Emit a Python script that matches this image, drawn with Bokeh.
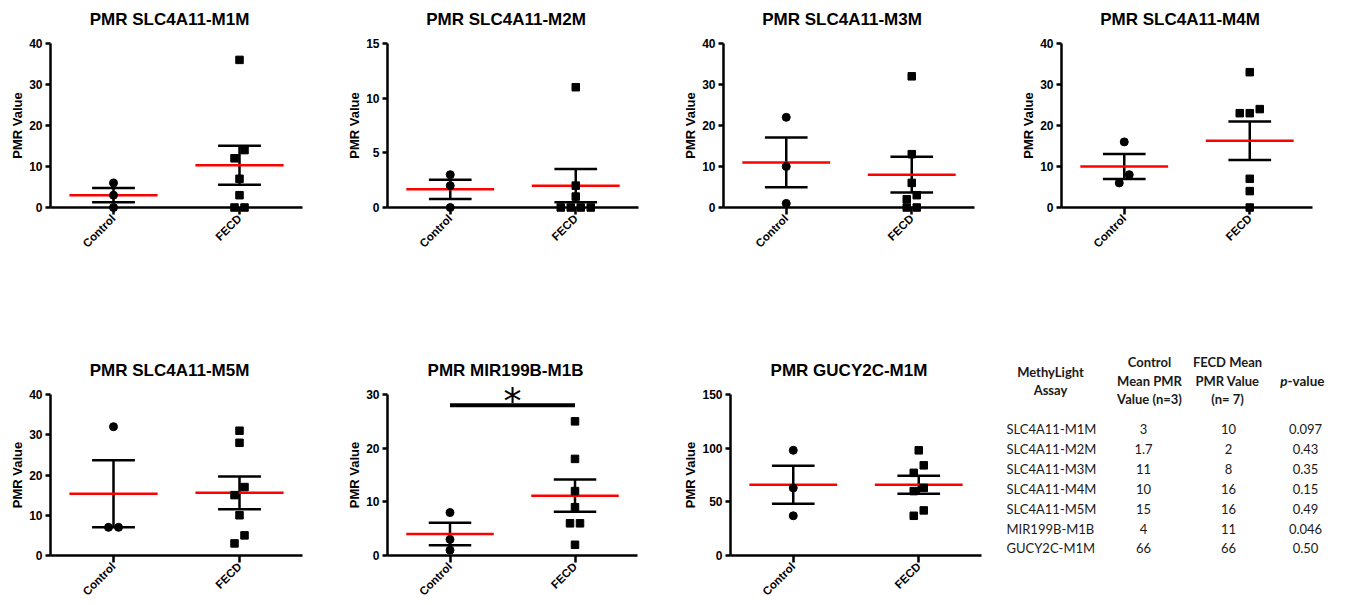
import math
from bokeh.plotting import figure
from bokeh.layouts import row, column
from bokeh.models import Range1d, FixedTicker, ColumnDataSource
from bokeh.core.properties import value
from bokeh.embed import file_html
from bokeh.resources import INLINE

# ---------------- data ----------------
groups = ["Control", "FECD"]

titles = ["PMR SLC4A11-M1M", "PMR SLC4A11-M2M", "PMR SLC4A11-M3M", "PMR SLC4A11-M4M",
          "PMR SLC4A11-M5M", "PMR MIR199B-M1B", "PMR GUCY2C-M1M"]

m1m_control = [6, 3, 0]
m1m_fecd = [36, 14, 12, 7, 3, 0, 0]
m2m_control = [3, 2, 0]
m2m_fecd = [11, 2, 1, 0, 0, 0, 0]
m3m_control = [22, 10, 1]
m3m_fecd = [32, 13, 6, 3, 2, 0, 0]
m4m_control = [16, 8, 6]
m4m_fecd = [33, 24, 23, 23, 7, 4, 0]
m5m_control = [32, 7, 7]
m5m_fecd = [31, 28, 17, 15, 10, 5, 3]
mir_control = [8, 3, 1]
mir_fecd = [25, 18, 12, 9, 6, 6, 2]
gucy_control = [98, 63, 37]
gucy_fecd = [98, 84, 77, 63, 60, 42, 37]

y_max = [40, 15, 40, 40, 40, 30, 150]
y_step = [10, 5, 10, 10, 10, 10, 50]

sig_panel = 5
sig_bar_y = 28
sig_label = "*"

table_header = ["MethyLight\nAssay", "Control\nMean PMR\nValue (n=3)", "FECD Mean\nPMR Value\n(n= 7)"]
table_p_header = ["p", "-value"]
table_assays = ["SLC4A11-M1M", "SLC4A11-M2M", "SLC4A11-M3M", "SLC4A11-M4M",
                "SLC4A11-M5M", "MIR199B-M1B", "GUCY2C-M1M"]
table_control_mean = ["3", "1.7", "11", "10", "15", "4", "66"]
table_fecd_mean = ["10", "2", "8", "16", "16", "11", "66"]
table_p = ["0.097", "0.43", "0.35", "0.15", "0.49", "0.046", "0.50"]

controls = [m1m_control, m2m_control, m3m_control, m4m_control, m5m_control, mir_control, gucy_control]
fecds = [m1m_fecd, m2m_fecd, m3m_fecd, m4m_fecd, m5m_fecd, mir_fecd, gucy_fecd]

# ---------------- layout / style ----------------
FONT = "Liberation Sans"
TOP_H, BOT_H = 351, 253
# (fig width, border left, border right)
top_geo = [(340, 50, 38), (335, 47, 37), (335, 48, 36), (330, 51, 28)]
bot_geo = [(340, 50, 38), (335, 47, 38), (315, 55, 9)]
TOP_BT, TOP_BB = 43, 144
BOT_BT, BOT_BB = 43, 46
MEAN_HW = 0.35
CAP_HW = 0.17
JIT_T, JIT_S = 9.0, 10.0
TITLE_DY, TITLE_DX = 24, -7     # px above frame top / shift from frame centre
STAR_DY = 10                    # px above the significance bar


def stats(v):
    n = len(v)
    m = sum(v) / n
    sd = math.sqrt(sum((x - m) ** 2 for x in v) / (n - 1))
    return m, sd / math.sqrt(n)


def jitter(vals, ppu_y, ppu_x):
    order = sorted(range(len(vals)), key=lambda i: -vals[i])
    offs = [0.0] * len(vals)
    grps = []
    for i in order:
        if grps and (vals[grps[-1][0]] - vals[i]) * ppu_y < JIT_T:
            grps[-1].append(i)
        else:
            grps.append([i])
    for g in grps:
        gs = sorted(g, key=lambda i: vals[i])
        n = len(gs)
        for k, i in enumerate(gs):
            offs[i] = (k - (n - 1) / 2) * JIT_S / ppu_x
    return offs


def make_panel(idx, fw, bl, br, fh, bt, bb):
    ymax = y_max[idx]
    p = figure(width=fw, height=fh, x_range=Range1d(0, len(groups)), y_range=Range1d(0, ymax),
               output_backend="svg", toolbar_location=None,
               min_border_left=bl, min_border_right=br, min_border_top=bt, min_border_bottom=bb)
    p.outline_line_color = None
    p.grid.visible = False

    centers = [i + 0.5 for i in range(len(groups))]
    frame_w = fw - bl - br
    frame_h = fh - bt - bb
    ppu_x = frame_w / len(groups)
    ppu_y = frame_h / ymax

    # title (placed above the frame)
    p.text(x=[len(groups) / 2 + TITLE_DX / ppu_x], y=[ymax + TITLE_DY / ppu_y], text=[titles[idx]],
           text_align="center", text_baseline="middle", text_font=value(FONT),
           text_font_size="17px", text_font_style="bold", text_color="black", level="overlay")

    # axes
    p.xaxis.ticker = FixedTicker(ticks=centers)
    p.xaxis.major_label_overrides = {c: g for c, g in zip(centers, groups)}
    p.xaxis.major_label_orientation = math.pi / 4
    p.yaxis.ticker = FixedTicker(ticks=list(range(0, ymax + 1, y_step[idx])))
    for ax in (p.xaxis, p.yaxis):
        ax.axis_line_width = 2.5
        ax.axis_line_color = "black"
        ax.major_tick_line_width = 2.5
        ax.major_tick_line_color = "black"
        ax.major_tick_in = 0
        ax.minor_tick_line_color = None
        ax.major_label_text_font = FONT
        ax.major_label_text_font_style = "bold"
        ax.major_label_text_color = "black"
    p.xaxis.major_tick_out = 7
    p.xaxis.major_label_standoff = 2
    p.xaxis.major_label_text_font_size = "11.5px"
    p.yaxis.major_tick_out = 5
    p.yaxis.major_label_standoff = 3
    p.yaxis.major_label_text_font_size = "12px"
    p.yaxis.axis_label = "PMR Value"
    p.yaxis.axis_label_text_font = FONT
    p.yaxis.axis_label_text_font_size = "13px"
    p.yaxis.axis_label_text_font_style = "bold"
    p.yaxis.axis_label_text_color = "black"
    p.yaxis.axis_label_standoff = 1

    for gi, vals in enumerate([controls[idx], fecds[idx]]):
        c = centers[gi]
        m, se = stats(vals)
        p.segment(x0=[c, c - CAP_HW, c - CAP_HW], y0=[m - se, m + se, m - se],
                  x1=[c, c + CAP_HW, c + CAP_HW], y1=[m + se, m + se, m - se],
                  line_color="black", line_width=2.5)
        p.segment(x0=[c - MEAN_HW], y0=[m], x1=[c + MEAN_HW], y1=[m],
                  line_color="red", line_width=2.5)
        offs = jitter(vals, ppu_y, ppu_x)
        src = ColumnDataSource(dict(x=[c + o for o in offs], y=vals))
        if gi == 0:
            p.scatter("x", "y", source=src, marker="circle", size=8, color="black", level="overlay")
        else:
            p.scatter("x", "y", source=src, marker="square", size=7.5, color="black", level="overlay")

    if idx == sig_panel:
        p.segment(x0=[centers[0]], y0=[sig_bar_y], x1=[centers[1]], y1=[sig_bar_y],
                  line_color="black", line_width=4, level="overlay")
        p.text(x=[sum(centers) / 2], y=[sig_bar_y + STAR_DY / ppu_y], text=[sig_label], text_align="center",
               text_baseline="middle", text_font=value("DejaVu Sans"), text_font_size="36px",
               text_color="black", level="overlay", y_offset=5)
    return p


top_figs = [make_panel(i, *top_geo[i], TOP_H, TOP_BT, TOP_BB) for i in range(4)]
bot_figs = [make_panel(4 + i, *bot_geo[i], BOT_H, BOT_BT, BOT_BB) for i in range(3)]

# ---------------- table ----------------
TAB_X0, TW = 990, 350
frame_top = TOP_H + BOT_BT
frame_bot = TOP_H + BOT_H - BOT_BB
tab = figure(width=TW, height=BOT_H, x_range=Range1d(TAB_X0, TAB_X0 + TW),
             y_range=Range1d(frame_bot, frame_top),
             output_backend="svg", toolbar_location=None,
             min_border_left=0, min_border_right=0, min_border_top=BOT_BT, min_border_bottom=BOT_BB)
tab.axis.visible = False
tab.grid.visible = False
tab.outline_line_color = None
TFONT = "Lato"
TCOL = "#1a1a1a"
TSIZE = "13px"
HEAD_Y = 380
ROW0, ROW_H = 429.5, 20.2
head_x = [1050, 1149, 1227]
col_x = [1143, 1228, 1305]
ROW_LABEL_X = 1006
P_SPLIT = 1287

tab.text(x=head_x, y=[HEAD_Y] * 3, text=table_header, text_align="center", text_baseline="middle",
         text_font=value(TFONT), text_font_size=TSIZE, text_font_style="bold",
         text_line_height=1.15, text_color=TCOL, level="overlay")
tab.text(x=[P_SPLIT], y=[HEAD_Y], text=[table_p_header[0]], text_align="right", text_baseline="middle",
         text_font=value(TFONT), text_font_size="13.5px", text_font_style="bold italic", text_color=TCOL,
         level="overlay")
tab.text(x=[P_SPLIT], y=[HEAD_Y], text=[table_p_header[1]], text_align="left", text_baseline="middle",
         text_font=value(TFONT), text_font_size="13.5px", text_font_style="bold", text_color=TCOL,
         level="overlay")

rows_y = [ROW0 + i * ROW_H for i in range(len(table_assays))]
tab.text(x=[ROW_LABEL_X] * len(rows_y), y=rows_y, text=table_assays, text_align="left", text_baseline="middle",
         text_font=value(TFONT), text_font_size=TSIZE, text_color=TCOL, level="overlay")
for cx, colvals in zip(col_x, [table_control_mean, table_fecd_mean, table_p]):
    tab.text(x=[cx] * len(rows_y), y=rows_y, text=colvals, text_align="center", text_baseline="middle",
             text_font=value(TFONT), text_font_size=TSIZE, text_color=TCOL, level="overlay")

layout = column(row(*top_figs), row(*bot_figs, tab))
open("out.html", "w").write(file_html(layout, INLINE))
